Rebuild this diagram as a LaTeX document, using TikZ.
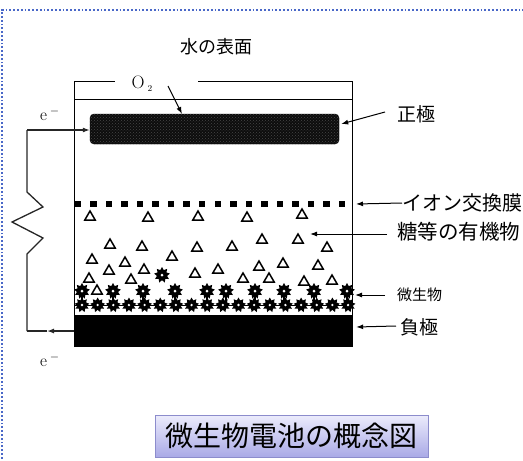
\documentclass[tikz,border=0pt]{standalone}
\usepackage{fontspec}
\newfontfamily\jpfont{Noto Sans CJK JP}
\usepackage{tikz}
\usetikzlibrary{positioning,arrows.meta,shapes.geometric,shadows,patterns}

\definecolor{framecol}{HTML}{4A68C8}
\definecolor{titletop}{HTML}{ECECFC}
\definecolor{titlebot}{HTML}{A9A9E6}
\definecolor{titleline}{HTML}{8C8CCC}

\begin{document}
\begin{tikzpicture}[
  x=1pt, y=-1pt,
  >={Latex[length=7pt,width=5pt]},
  wire/.style={line width=1.3pt, black!85},
  wall/.style={line width=1pt},
  lbl/.style={font=\jpfont\fontsize{19}{21}\selectfont, anchor=west, inner sep=0pt},
  tri/.style={regular polygon, regular polygon sides=3, draw, line width=1.5pt, minimum size=12pt, inner sep=0pt},
  microbe/.style={star, star points=9, star point ratio=1.55, fill=black, minimum size=15pt, inner sep=0pt},
  membr/.style={fill=black, minimum size=6.5pt, inner sep=0pt},
]
  \useasboundingbox (0,0) rectangle (523,461);

  % Outer dotted frame
  \draw[framecol, dotted, line width=1.8pt] (2,470) -- (2,10) -- (530,10);

  % Water surface
  \node[font=\jpfont\fontsize{18}{20}\selectfont] (surface) at (216,47) {水の表面};
  \node[font=\fontsize{18}{20}\selectfont, inner sep=0pt] (o2) at (142,84) {O\,\raisebox{-3pt}{\fontsize{9}{9}\selectfont 2}};

  % Tank
  \draw[wall] (74,347) -- (74,81) -- (115,81);
  \draw[wall] (198,81) -- (352,81) -- (352,347);
  \draw[wall] (74,99) -- (352,99);

  % Positive electrode
  \node[draw=black, fill=black!95, rounded corners=4pt, minimum width=249pt, minimum height=30pt, inner sep=0pt] (anode) at (214.5,129) {};
  \fill[pattern=crosshatch dots, pattern color=black!72, rounded corners=4pt] (anode.south west) rectangle (anode.north east);
  \coordinate (o2tail) at (168,86);
  \coordinate (o2tip) at (182,114);
  \draw[line width=1pt, ->] (o2tail) -- (o2tip);

  % Ion exchange membrane
  \foreach \i in {0,...,17}
    \node[membr] (m\i) at ({78+15.53*\i},204) {};

  % Organic matter
  \foreach \x/\y [count=\k] in {90/217, 148/218, 198/217, 247/218, 302/215,
      110/245, 142/247, 197/248, 232/247, 262/240, 298/240, 327/248,
      92/260, 125/263, 172/257, 109/271, 144/270, 195/274, 218/270,
      259/267, 283/264, 318/266, 89/279, 131/280, 243/279, 269/279,
      304/282, 332/281, 97/291}
    \node[tri] (t\k) at (\x,\y) {};

  % Microbes
  \draw[line width=1pt] (74,305) -- (352,305);
  \foreach \x in {82,113,143,175,207,226,255,284,314,347}
    \draw[line width=1.4pt] (\x,291) -- (\x,305);
  \foreach \x [count=\k] in {82,113,143,175,207,226,255,284,314,347} {
    \node[microbe, minimum size=16pt] (u\k) at (\x,291) {};
    \fill[white] (u\k) circle (1.5pt);
  }
  \node[microbe, minimum size=16pt] (lone) at (162,275) {};
  \fill[white] (lone) circle (1.5pt);
  \foreach \i in {0,...,17} {
    \node[microbe] (d\i) at ({82+15.65*\i},305) {};
    \fill[white] (d\i) circle (1.3pt);
  }

  % Negative electrode
  \node[fill=black, minimum width=278pt, minimum height=32pt, inner sep=0pt] (cathode) at (213,331) {};

  % External circuit
  \node[font=\fontsize{17}{19}\selectfont] (etop) at (50,114) {e\,$^{-}$};
  \node[font=\fontsize{17}{19}\selectfont] (ebot) at (50,360) {e\,$^{-}$};
  \coordinate (wtop) at (27,130);
  \coordinate (wbot) at (27,331);
  \draw[wire, ->] (wtop) -- (wtop -| anode.west);
  \draw[wire] (wbot) -- (27,254) -- (43,238) -- (12,222) -- (43,207) -- (27,192) -- (wtop);
  \draw[wire, ->] (cathode.west |- wbot) -- (47,331);
  \draw[wire] (47,331) -- (wbot);

  % Labels
  \node[lbl] (poslbl) at (397,114) {正極};
  \node[lbl, font=\jpfont\fontsize{20}{22}\selectfont] (memlbl) at (402,203) {イオン交換膜};
  \node[lbl, font=\jpfont\fontsize{20.5}{22}\selectfont] (orglbl) at (397,232) {糖等の有機物};
  \node[lbl, font=\jpfont\fontsize{15}{17}\selectfont] (miclbl) at (397,295) {微生物};
  \node[lbl] (neglbl) at (400,327) {負極};

  \coordinate (memtip) at (356,204);
  \coordinate (orgtip) at (310,234);
  \coordinate (mictip) at (355,295);
  \draw[line width=1pt, ->] ([xshift=-12pt, yshift=2pt]poslbl.west) -- ([xshift=2pt, yshift=5pt]anode.east);
  \draw[line width=1pt, ->] (memlbl.west) -- (memtip);
  \draw[line width=1pt, ->] ([xshift=-10pt, yshift=-2pt]orglbl.west) -- (orgtip);
  \draw[line width=1pt, ->] ([xshift=-12pt]miclbl.west) -- (mictip);
  \draw[line width=1pt, ->] ([xshift=-4pt, yshift=1pt]neglbl.west) -- ([xshift=4pt]cathode.east |- neglbl.west);

  % Title
  \node[draw=titleline, line width=0.8pt, top color=titletop, bottom color=titlebot,
        drop shadow={opacity=0.25, shadow xshift=1pt, shadow yshift=-1pt},
        minimum width=273pt, minimum height=42pt, inner sep=0pt,
        font=\jpfont\fontsize{28}{30}\selectfont] (title) at (291.5,436) {微生物電池の概念図};
\end{tikzpicture}
\end{document}
